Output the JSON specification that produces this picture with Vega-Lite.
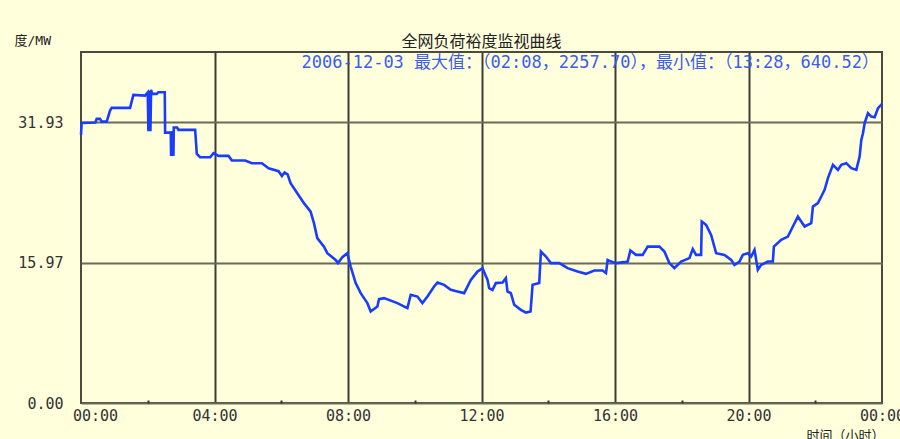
{
  "$schema": "https://vega.github.io/schema/vega-lite/v6.json",
  "width": 801,
  "height": 351,
  "autosize": {"type": "none"},
  "padding": {"left": 81, "top": 52, "right": 18, "bottom": 36},
  "background": "#FFFFDC",
  "config": {
    "view": {"stroke": "#4a4a40", "strokeWidth": 2},
    "font": "DejaVu Sans Mono"
  },
  "title": {
    "text": "全网负荷裕度监视曲线",
    "font": "Noto Sans CJK SC",
    "fontSize": 16,
    "fontWeight": "normal",
    "color": "#222222",
    "anchor": "middle",
    "baseline": "bottom",
    "offset": 3,
    "dy": 35
  },
  "datasets": {
    "load": [
      {"h": 0.00, "v": 30.48}, {"h": 0.02, "v": 31.84}, {"h": 0.43, "v": 31.88}, {"h": 0.47, "v": 32.30},
      {"h": 0.57, "v": 32.30}, {"h": 0.62, "v": 31.99}, {"h": 0.77, "v": 31.99}, {"h": 0.87, "v": 33.24},
      {"h": 0.92, "v": 33.55}, {"h": 1.47, "v": 33.55}, {"h": 1.57, "v": 35.02}, {"h": 1.92, "v": 34.94},
      {"h": 2.00, "v": 35.30}, {"h": 2.02, "v": 30.90}, {"h": 2.05, "v": 35.50}, {"h": 2.08, "v": 30.90},
      {"h": 2.10, "v": 35.60}, {"h": 2.13, "v": 35.14}, {"h": 2.27, "v": 35.14}, {"h": 2.32, "v": 35.33},
      {"h": 2.51, "v": 35.33}, {"h": 2.52, "v": 30.74}, {"h": 2.69, "v": 30.74}, {"h": 2.70, "v": 28.09},
      {"h": 2.74, "v": 30.90}, {"h": 2.77, "v": 28.09}, {"h": 2.78, "v": 31.31}, {"h": 2.88, "v": 31.31},
      {"h": 2.92, "v": 31.05}, {"h": 3.42, "v": 31.05}, {"h": 3.47, "v": 28.32}, {"h": 3.57, "v": 27.94},
      {"h": 3.87, "v": 27.94}, {"h": 3.97, "v": 28.40}, {"h": 4.12, "v": 28.09}, {"h": 4.42, "v": 28.09},
      {"h": 4.52, "v": 27.56}, {"h": 4.92, "v": 27.56}, {"h": 5.12, "v": 27.26}, {"h": 5.42, "v": 27.26},
      {"h": 5.62, "v": 26.69}, {"h": 5.92, "v": 26.35}, {"h": 6.02, "v": 25.80}, {"h": 6.10, "v": 26.20},
      {"h": 6.19, "v": 26.00}, {"h": 6.28, "v": 24.99}, {"h": 6.48, "v": 23.85}, {"h": 6.68, "v": 22.72},
      {"h": 6.88, "v": 21.76}, {"h": 6.98, "v": 20.44}, {"h": 7.08, "v": 18.74}, {"h": 7.28, "v": 17.78},
      {"h": 7.38, "v": 17.03}, {"h": 7.63, "v": 16.27}, {"h": 7.70, "v": 15.90}, {"h": 7.83, "v": 16.58},
      {"h": 7.98, "v": 17.03}, {"h": 8.08, "v": 15.51}, {"h": 8.23, "v": 13.63}, {"h": 8.38, "v": 12.49},
      {"h": 8.58, "v": 11.35}, {"h": 8.68, "v": 10.40}, {"h": 8.88, "v": 10.97}, {"h": 8.93, "v": 11.81},
      {"h": 9.08, "v": 11.92}, {"h": 9.48, "v": 11.35}, {"h": 9.78, "v": 10.78}, {"h": 9.88, "v": 12.30},
      {"h": 10.08, "v": 12.10}, {"h": 10.23, "v": 11.35}, {"h": 10.38, "v": 12.10}, {"h": 10.58, "v": 13.24},
      {"h": 10.68, "v": 13.69}, {"h": 10.88, "v": 13.43}, {"h": 11.08, "v": 12.86}, {"h": 11.28, "v": 12.67},
      {"h": 11.48, "v": 12.49}, {"h": 11.68, "v": 14.00}, {"h": 11.88, "v": 14.94}, {"h": 12.03, "v": 15.33},
      {"h": 12.18, "v": 14.00}, {"h": 12.23, "v": 13.06}, {"h": 12.33, "v": 12.86}, {"h": 12.43, "v": 13.63},
      {"h": 12.63, "v": 13.69}, {"h": 12.73, "v": 14.19}, {"h": 12.78, "v": 12.67}, {"h": 12.88, "v": 12.49},
      {"h": 12.98, "v": 11.16}, {"h": 13.18, "v": 10.59}, {"h": 13.33, "v": 10.28}, {"h": 13.47, "v": 10.40},
      {"h": 13.53, "v": 13.43}, {"h": 13.73, "v": 13.63}, {"h": 13.78, "v": 17.22}, {"h": 13.93, "v": 16.65},
      {"h": 14.08, "v": 15.90}, {"h": 14.33, "v": 15.90}, {"h": 14.58, "v": 15.33}, {"h": 14.88, "v": 14.94},
      {"h": 15.13, "v": 14.68}, {"h": 15.38, "v": 15.06}, {"h": 15.63, "v": 15.06}, {"h": 15.73, "v": 14.76},
      {"h": 15.78, "v": 16.27}, {"h": 15.88, "v": 16.08}, {"h": 16.03, "v": 15.90}, {"h": 16.28, "v": 16.01},
      {"h": 16.38, "v": 16.08}, {"h": 16.46, "v": 17.33}, {"h": 16.63, "v": 16.84}, {"h": 16.83, "v": 16.84},
      {"h": 16.98, "v": 17.78}, {"h": 17.33, "v": 17.78}, {"h": 17.48, "v": 17.22}, {"h": 17.63, "v": 15.90},
      {"h": 17.78, "v": 15.33}, {"h": 17.98, "v": 16.08}, {"h": 18.23, "v": 16.47}, {"h": 18.33, "v": 17.49},
      {"h": 18.43, "v": 16.84}, {"h": 18.58, "v": 16.84}, {"h": 18.60, "v": 20.63}, {"h": 18.73, "v": 20.25},
      {"h": 18.88, "v": 19.11}, {"h": 19.03, "v": 17.03}, {"h": 19.28, "v": 16.84}, {"h": 19.48, "v": 16.27},
      {"h": 19.58, "v": 15.70}, {"h": 19.73, "v": 16.08}, {"h": 19.83, "v": 16.84}, {"h": 19.98, "v": 17.03},
      {"h": 20.08, "v": 16.65}, {"h": 20.18, "v": 17.41}, {"h": 20.28, "v": 15.14}, {"h": 20.38, "v": 15.70},
      {"h": 20.58, "v": 16.08}, {"h": 20.73, "v": 16.08}, {"h": 20.76, "v": 17.78}, {"h": 20.98, "v": 18.55},
      {"h": 21.18, "v": 18.92}, {"h": 21.33, "v": 20.06}, {"h": 21.48, "v": 21.19}, {"h": 21.58, "v": 20.63},
      {"h": 21.68, "v": 20.06}, {"h": 21.88, "v": 20.44}, {"h": 21.93, "v": 22.33}, {"h": 22.08, "v": 22.72},
      {"h": 22.18, "v": 23.47}, {"h": 22.28, "v": 24.23}, {"h": 22.38, "v": 25.56}, {"h": 22.53, "v": 27.07},
      {"h": 22.68, "v": 26.50}, {"h": 22.78, "v": 27.07}, {"h": 22.93, "v": 27.26}, {"h": 23.08, "v": 26.69},
      {"h": 23.23, "v": 26.50}, {"h": 23.33, "v": 28.01}, {"h": 23.38, "v": 29.91}, {"h": 23.43, "v": 30.67},
      {"h": 23.48, "v": 31.81}, {"h": 23.58, "v": 32.94}, {"h": 23.68, "v": 32.56}, {"h": 23.78, "v": 32.49},
      {"h": 23.88, "v": 33.51}, {"h": 24.00, "v": 34.00}
    ],
    "note": [
      {"label": "2006-12-03 最大值：（02:08，2257.70），最小值：（13:28，640.52）"}
    ]
  },
  "layer": [
    {
      "data": {"name": "load"},
      "mark": {"type": "line", "color": "#1a3cff", "strokeWidth": 2.6, "strokeJoin": "miter"},
      "encoding": {
        "x": {
          "field": "h",
          "type": "quantitative",
          "scale": {"domain": [0, 24], "nice": false},
          "axis": {
            "values": [0,1,2,3,4,5,6,7,8,9,10,11,12,13,14,15,16,17,18,19,20,21,22,23,24],
            "labelExpr": "datum.value % 4 == 0 ? ((datum.value % 24) < 10 ? '0' : '') + (datum.value % 24) + ':00' : ''",
            "labelFlush": false,
            "labelOverlap": false,
            "labelFont": "DejaVu Sans Mono",
            "labelFontSize": 15,
            "labelColor": "#333333",
            "labelPadding": 8,
            "labelBaseline": "top",
            "labelOffset": {"condition": {"test": "datum.value == 0", "value": 14}, "value": 0},
            "domain": false,
            "ticks": true,
            "tickSize": -3,
            "tickWidth": 2,
            "tickColor": "#333333",
            "tickOpacity": {"condition": {"test": "datum.value % 4 == 0", "value": 0}, "value": 1},
            "grid": true,
            "gridColor": "#3c3c36",
            "gridWidth": 2,
            "gridOpacity": {"condition": {"test": "datum.value % 4 == 0 && datum.value > 0 && datum.value < 24", "value": 1}, "value": 0},
            "title": "时间（小时）",
            "titleFont": "Noto Sans CJK SC",
            "titleFontSize": 13,
            "titleFontWeight": "normal",
            "titleColor": "#222222",
            "titleAlign": "left",
            "titleAnchor": null,
            "titleBaseline": "middle",
            "titleX": 725,
            "titleY": 32
          }
        },
        "y": {
          "field": "v",
          "type": "quantitative",
          "scale": {"domain": [0, 39.9], "nice": false},
          "axis": {
            "values": [0, 15.97, 31.93],
            "format": ".2f",
            "labelFont": "DejaVu Sans Mono",
            "labelFontSize": 15,
            "labelColor": "#333333",
            "labelPadding": 18,
            "domain": false,
            "ticks": false,
            "grid": true,
            "gridColor": "#6a6a58",
            "gridWidth": 2,
            "title": "度/MW",
            "titleFont": "DejaVu Sans Mono, Noto Sans CJK SC",
            "titleFontSize": 13,
            "titleFontWeight": "normal",
            "titleColor": "#222222",
            "titleAngle": 0,
            "titleAlign": "left",
            "titleAnchor": null,
            "titleBaseline": "middle",
            "titleX": -67,
            "titleY": -12
          }
        }
      }
    },
    {
      "data": {"name": "note"},
      "mark": {
        "type": "text",
        "align": "right",
        "baseline": "middle",
        "dx": -3,
        "dy": 11,
        "font": "DejaVu Sans Mono, Noto Sans CJK SC",
        "fontSize": 17,
        "color": "#3a5cf0"
      },
      "encoding": {
        "x": {"datum": 24, "type": "quantitative"},
        "y": {"datum": 39.9, "type": "quantitative"},
        "text": {"field": "label"}
      }
    }
  ]
}
